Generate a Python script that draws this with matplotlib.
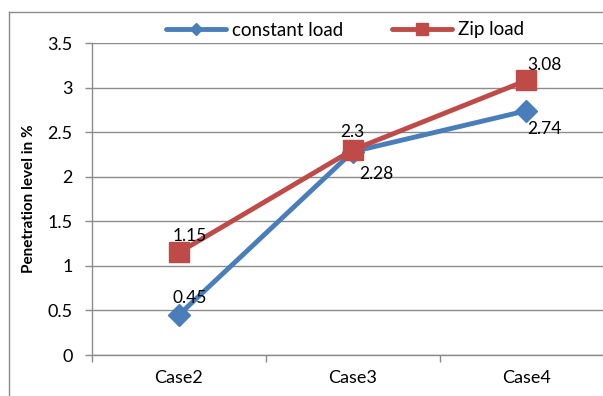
import matplotlib.pyplot as plt
from matplotlib.lines import Line2D

plt.rcParams['font.family'] = ['Lato', 'DejaVu Sans']

# Data
cases = ["Case2", "Case3", "Case4"]
constant_load = [0.45, 2.28, 2.74]
zip_load = [1.15, 2.3, 3.08]
y_ticks = [0, 0.5, 1, 1.5, 2, 2.5, 3, 3.5]

blue = '#4A7EBB'
red = '#BE4B48'
grid_gray = '#8C8C8C'

fig = plt.figure(figsize=(6.03, 3.96), dpi=100)

# chart frame: only the left and top edges fall inside the picture
fx, fy = 8.5 / 603, 1 - 11.5 / 396
fig.add_artist(Line2D([fx, fx], [0, fy], transform=fig.transFigure, color=grid_gray, linewidth=1))
fig.add_artist(Line2D([fx, 1], [fy, fy], transform=fig.transFigure, color=grid_gray, linewidth=1))

ax = fig.add_axes([92 / 603, 41 / 396, 1.02 - 92 / 603, 312 / 396])

x = range(len(cases))
ax.plot(x, constant_load, color=blue, linewidth=3.5, marker='D', markersize=11,
        solid_capstyle='round', zorder=3)
ax.plot(x, zip_load, color=red, linewidth=3.5, marker='s', markersize=14,
        solid_capstyle='round', zorder=4)

# data labels (offsets in points)
blue_offsets = [(8, 12), (17, -16), (13, -13)]
red_offsets = [(8, 12), (0, 13), (13, 11)]
for i, v in enumerate(constant_load):
    ax.annotate(f"{v:g}", (i, v), xytext=blue_offsets[i], textcoords='offset points',
                ha='center', va='center', fontsize=12.5, zorder=5)
for i, v in enumerate(zip_load):
    ax.annotate(f"{v:g}", (i, v), xytext=red_offsets[i], textcoords='offset points',
                ha='center', va='center', fontsize=12.5, zorder=5)

ax.set_xlim(-0.5, 2.51)
ax.set_ylim(0, 3.5)
ax.set_yticks(y_ticks)
ax.set_yticklabels([f"{t:g}" for t in y_ticks], fontsize=13)
ax.set_xticks([0, 1, 2])
ax.set_xticklabels(cases, fontsize=13)
ax.set_xticks([-0.5, 0.5, 1.5], minor=True)
ax.tick_params(axis='x', which='major', length=0, pad=11)
ax.tick_params(axis='x', which='minor', length=5, color=grid_gray, width=1)
ax.tick_params(axis='y', length=5, color=grid_gray, width=1, pad=9)

ax.grid(axis='y', color=grid_gray, linewidth=1)
ax.set_axisbelow(True)
for s in ['top', 'right']:
    ax.spines[s].set_visible(False)
for s in ['left', 'bottom']:
    ax.spines[s].set_color(grid_gray)
    ax.spines[s].set_linewidth(1)

ax.set_ylabel("Penetration level in %", fontsize=11, fontweight='bold', labelpad=8)

handles = [
    Line2D([], [], color=blue, linewidth=3.5, marker='D', markersize=6, solid_capstyle='round'),
    Line2D([], [], color=red, linewidth=3.5, marker='s', markersize=9, solid_capstyle='round'),
]
fig.legend(handles, ["constant load", "Zip load"], loc='center',
           bbox_to_anchor=(345 / 603, 1 - 30 / 396), ncol=2, frameon=False,
           fontsize=13.5, handlelength=3.2, handletextpad=0.3, columnspacing=2.6)

fig.savefig("out.png", dpi=100)
